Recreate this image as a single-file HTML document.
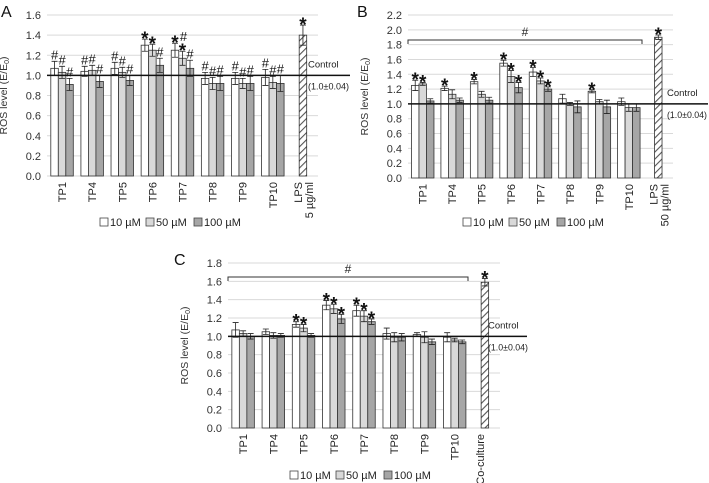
<!DOCTYPE html>
<html><head><meta charset="utf-8"><style>
body{margin:0;background:#fff}
svg{display:block;font-family:"Liberation Sans",sans-serif}
</style></head><body>
<svg id="fig" width="709" height="483" viewBox="0 0 709 483" xmlns="http://www.w3.org/2000/svg">
<defs>
<pattern id="hatch" width="5" height="5" patternUnits="userSpaceOnUse" patternTransform="rotate(45)">
<rect width="5" height="5" fill="#fff"/><line x1="0" y1="0" x2="0" y2="5" stroke="#555" stroke-width="2.2"/>
</pattern>
</defs>
</svg>
<script>
const categories=["TP1","TP4","TP5","TP6","TP7","TP8","TP9","TP10"];
const seriesNames=["10 µM","50 µM","100 µM"];
const aVals=[[1.07,1.04,1.07,1.30,1.25,0.97,0.97,0.98],[1.03,1.05,1.03,1.25,1.17,0.92,0.92,0.93],[0.91,0.94,0.95,1.10,1.07,0.92,0.92,0.92]];
const aErr=[[0.07,0.05,0.06,0.06,0.07,0.06,0.06,0.08],[0.06,0.05,0.05,0.06,0.07,0.06,0.05,0.06],[0.06,0.06,0.05,0.07,0.08,0.07,0.07,0.08]];
const aMarks=[["#","#","#","*","*","#","#","#"],["#","#","#","*","*","#","#","#"],["#","#","#","#","#","#","#","#"]];
const aCtrl=[1.40,0.10];
const bVals=[[1.25,1.21,1.30,1.55,1.43,1.07,1.17,1.03],[1.27,1.13,1.13,1.37,1.31,1.00,1.03,0.95],[1.04,1.05,1.05,1.22,1.20,0.96,0.96,0.95]];
const bErr=[[0.07,0.03,0.03,0.04,0.06,0.06,0.02,0.05],[0.02,0.06,0.04,0.08,0.04,0.02,0.03,0.05],[0.03,0.03,0.04,0.07,0.03,0.08,0.09,0.05]];
const bMarks=[["*","*","*","*","*","","*",""],["*","","","*","*","","",""],["","","","*","*","","",""]];
const bCtrl=[1.90,0.03];
const cVals=[[1.07,1.05,1.13,1.34,1.28,1.03,1.02,0.99],[1.03,1.01,1.09,1.30,1.22,0.99,0.99,0.96],[1.00,1.01,1.01,1.19,1.16,0.99,0.94,0.94]];
const cErr=[[0.08,0.03,0.03,0.05,0.06,0.06,0.02,0.05],[0.03,0.03,0.04,0.05,0.06,0.05,0.06,0.02],[0.03,0.02,0.02,0.05,0.03,0.04,0.03,0.02]];
const cMarks=[["","","*","*","*","","",""],["","","*","*","*","","",""],["","","","*","*","","",""]];
const cCtrl=[1.59,0.04];
const aTicks=[0,0.2,0.4,0.6,0.8,1.0,1.2,1.4,1.6];
const bTicks=[0,0.2,0.4,0.6,0.8,1.0,1.2,1.4,1.6,1.8,2.0,2.2];
const cTicks=[0,0.2,0.4,0.6,0.8,1.0,1.2,1.4,1.6,1.8];

const NS="http://www.w3.org/2000/svg";
const svg=document.getElementById("fig");
function mk(tag,attrs,parent,text){const e=document.createElementNS(NS,tag);for(const k in attrs)e.setAttribute(k,attrs[k]);if(text!==undefined)e.textContent=text;(parent||svg).appendChild(e);return e;}
const fills=["#ffffff","#d9d9d9","#a6a6a6"];

function markText(g,x,top,mark){
  const isStar=mark=="*";
  const t=mk("text",{x:x,y:isStar?top+6:top-2,"font-size":isStar?19:13,"font-weight":isStar?"bold":"normal","text-anchor":"middle",fill:"#111"},g,mark);
  return t;
}

function panel(o){
  const g=mk("g",{});
  
  
  const y=v=>o.y0-(v/o.max)*(o.y0-o.yTop);
  const cw=(o.x1-o.x0)/9;
  const cx=i=>o.x0+cw*(i+0.5);
  const bw=7.5;
  const L=mk("text",{x:o.lx,y:o.ly,"font-size":16,fill:"#111"},g,o.letter);
  
  
  o.ticks.forEach(t=>{
    if(t>0){const gl=mk("line",{x1:o.x0,x2:o.x1,y1:y(t),y2:y(t),stroke:"#d9d9d9","stroke-width":1},g);
      
      }
    const tl=mk("text",{x:o.x0-6,y:y(t)+4,"font-size":11,"text-anchor":"end",fill:"#333"},g,t.toFixed(1));
    
    
  });
  const ax=mk("line",{x1:o.x0,x2:o.x1,y1:o.y0,y2:o.y0,stroke:"#d9d9d9"},g);
  
  
  const yt=mk("text",{transform:`translate(${o.ytx},${(o.y0+o.yTop)/2}) rotate(-90)`,"font-size":10.5,"text-anchor":"middle",fill:"#333"},g);
  
  
  yt.innerHTML='ROS level (E/E<tspan font-size="7" dy="2">0</tspan><tspan dy="-2">)</tspan>';
  for(let s=0;s<3;s++){
    for(let i=0;i<8;i++){
      const v=o.vals[s][i],e=o.err[s][i];
      const bx=cx(i)-1.5*bw+s*bw;
      const r=mk("rect",{x:bx,y:y(v),width:bw,height:o.y0-y(v),fill:fills[s],stroke:"#333","stroke-width":0.8},g);
      
      
      const m=bx+bw/2;
      const eb=mk("path",{d:`M${m},${y(v+e)}V${y(v-e)}M${m-3},${y(v+e)}H${m+3}M${m-3},${y(v-e)}H${m+3}`,stroke:"#222","stroke-width":0.8,fill:"none"},g);
      
      
      const mark=o.marks[s][i];
      if(mark){const t=markText(g,m,y(v+e),mark);
        
        }
    }
  }
  if(o.extra){o.extra.forEach(([i,s,mk2])=>{const m=cx(i)-1.5*bw+s*bw+bw/2;const v=o.vals[s][i]+o.err[s][i];
    const t=mk("text",{x:m+1,y:y(v)-10,"font-size":13,"text-anchor":"middle",fill:"#111"},g,mk2);
    
    });}
  categories.forEach((c,i)=>{
    const t=mk("text",{transform:`translate(${cx(i)+4},${o.y0+6}) rotate(-90)`,"font-size":11,"text-anchor":"end",fill:"#222"},g,c);
    
    
  });
  const cxx=cx(8),cv=o.ctrl[0],ce=o.ctrl[1];
  const hb=mk("rect",{x:cxx-bw/2,y:y(cv),width:bw,height:o.y0-y(cv),fill:"url(#hatch)",stroke:"#333","stroke-width":0.8},g);
  
  
  const eb=mk("path",{d:`M${cxx},${y(cv+ce)}V${y(cv-ce)}M${cxx-3},${y(cv+ce)}H${cxx+3}M${cxx-3},${y(cv-ce)}H${cxx+3}`,stroke:"#222","stroke-width":0.8},g);
  
  
  const st=markText(g,cxx,y(cv+ce),"*");
  
  
  o.posLabel.forEach((txt,k)=>{
    const t=mk("text",{transform:`translate(${cxx-1+k*11},${o.y0+6}) rotate(-90)`,"font-size":11,"text-anchor":"end",fill:"#222"},g,txt);
    
    
  });
  const cl=mk("line",{x1:o.x0,x2:o.clEnd,y1:y(1),y2:y(1),stroke:"#111","stroke-width":1.5},g);
  
  
  const c1=mk("text",{x:o.ctx,y:y(1)-8,"font-size":9.5,fill:"#222"},g,"Control");
  
  
  const c2=mk("text",{x:o.ctx,y:y(1)+14,"font-size":9.5,fill:"#222",textLength:o.ctl,lengthAdjust:"spacingAndGlyphs"},g,"(1.0±0.04)");
  
  
  if(o.bracket){const by=o.bracket[0],bx1=o.bracket[1];
    const br=mk("path",{d:`M${o.x0},${by+4}V${by}H${bx1}V${by+4}`,stroke:"#333",fill:"none","stroke-width":1},g);
    
    
    const h=mk("text",{x:(o.x0+bx1)/2,y:by-4,"font-size":12,"text-anchor":"middle",fill:"#222"},g,"#");
    
    }
  let lx=o.legX;
  seriesNames.forEach((n,s)=>{
    const r=mk("rect",{x:lx,y:o.legY-8,width:8,height:8,fill:fills[s],stroke:"#444","stroke-width":0.8},g);
    
    
    const t=mk("text",{x:lx+10,y:o.legY,"font-size":11,fill:"#222"},g,n);
    
    
    lx+=s==0?46:48;
  });
}
panel({letter:"A",lx:1,ly:17,x0:47,x1:318,y0:176,yTop:15,max:1.6,ticks:aTicks,ytx:7,vals:aVals,err:aErr,marks:aMarks,ctrl:aCtrl,
  extra:[[4,1,"#"]],posLabel:["LPS","5 µg/ml"],clEnd:350,ctx:308,ctl:41,legX:100,legY:226});
panel({letter:"B",lx:357,ly:17,x0:408,x1:673,y0:178,yTop:15,max:2.2,ticks:bTicks,ytx:368,vals:bVals,err:bErr,marks:bMarks,ctrl:bCtrl,
  posLabel:["LPS","50 µg/ml"],clEnd:708,ctx:667,ctl:40,bracket:[40,642],legX:463,legY:226});
panel({letter:"C",lx:174,ly:265,x0:228,x1:500,y0:428,yTop:263,max:1.8,ticks:cTicks,ytx:188,vals:cVals,err:cErr,marks:cMarks,ctrl:cCtrl,
  posLabel:["Co-culture"],clEnd:527,ctx:488,ctl:40,bracket:[277,468],legX:290,legY:479});
</script>
</body></html>
